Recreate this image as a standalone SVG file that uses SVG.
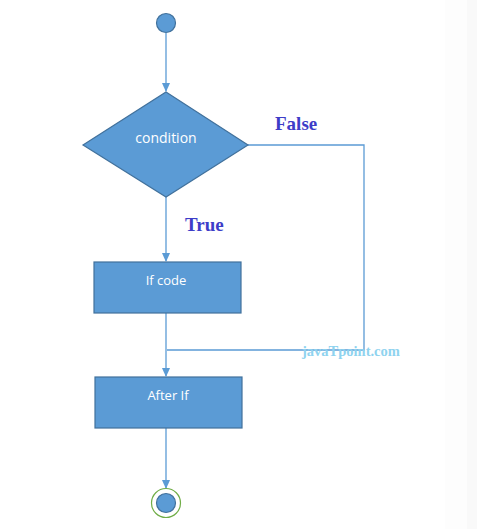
<svg xmlns="http://www.w3.org/2000/svg" width="477" height="529" viewBox="0 0 477 529">
<style>
.shape{fill:#5b9bd5;stroke:#41719c;stroke-width:1.2}
.conn{fill:none;stroke:#5b9bd5;stroke-width:1.3}
.lbl{font-family:"Open Sans","Liberation Sans",sans-serif;font-size:13px;fill:#ffffff;text-anchor:middle}
.cond{font-family:"Liberation Serif",serif;font-weight:bold;font-size:19px;fill:#3d3dc8}
.wm{font-family:"Liberation Serif",serif;font-weight:bold;font-size:14.5px;fill:#8fd3ef}
</style>
<defs>
<marker id="arr" markerWidth="10" markerHeight="10" refX="8" refY="5" orient="auto" markerUnits="userSpaceOnUse">
<path d="M0,1 L9,5 L0,9 Z" fill="#5b9bd5"/>
</marker>
</defs>
<rect x="0" y="0" width="477" height="529" fill="#ffffff"/>
<rect x="445" y="0" width="32" height="529" fill="#fdfdfd"/>
<rect x="467" y="0" width="10" height="529" fill="#f9f9f9"/>
<g id="connectors">
<line class="conn" x1="166" y1="33" x2="166" y2="91" marker-end="url(#arr)"/>
<line class="conn" x1="166" y1="197" x2="166" y2="261" marker-end="url(#arr)"/>
<polyline class="conn" points="248,145 364,145 364,350 167,350"/>
<line class="conn" x1="166" y1="313" x2="166" y2="376" marker-end="url(#arr)"/>
<line class="conn" x1="166" y1="428" x2="166" y2="488" marker-end="url(#arr)"/>
</g>
<g id="start">
<circle class="shape" cx="166" cy="23" r="9.5"/>
</g>
<g id="condition">
<polygon class="shape" points="166,92 248,145 166,197 83,145"/>
<text class="lbl" x="166" y="143" style="font-size:14px">condition</text>
</g>
<g id="if-code">
<rect class="shape" x="94" y="262" width="147" height="51"/>
<text class="lbl" x="166" y="285">If code</text>
</g>
<g id="after-if">
<rect class="shape" x="95" y="377" width="147" height="51"/>
<text class="lbl" x="168" y="400">After If</text>
</g>
<g id="end">
<circle cx="166" cy="503" r="14.5" fill="#ffffff" stroke="#70ad47" stroke-width="1.2"/>
<circle class="shape" cx="166" cy="503" r="9.5"/>
</g>
<text class="cond" x="275" y="130">False</text>
<text class="cond" x="185" y="231">True</text>
<text class="wm" x="302" y="356">javaTpoint.com</text>
</svg>
